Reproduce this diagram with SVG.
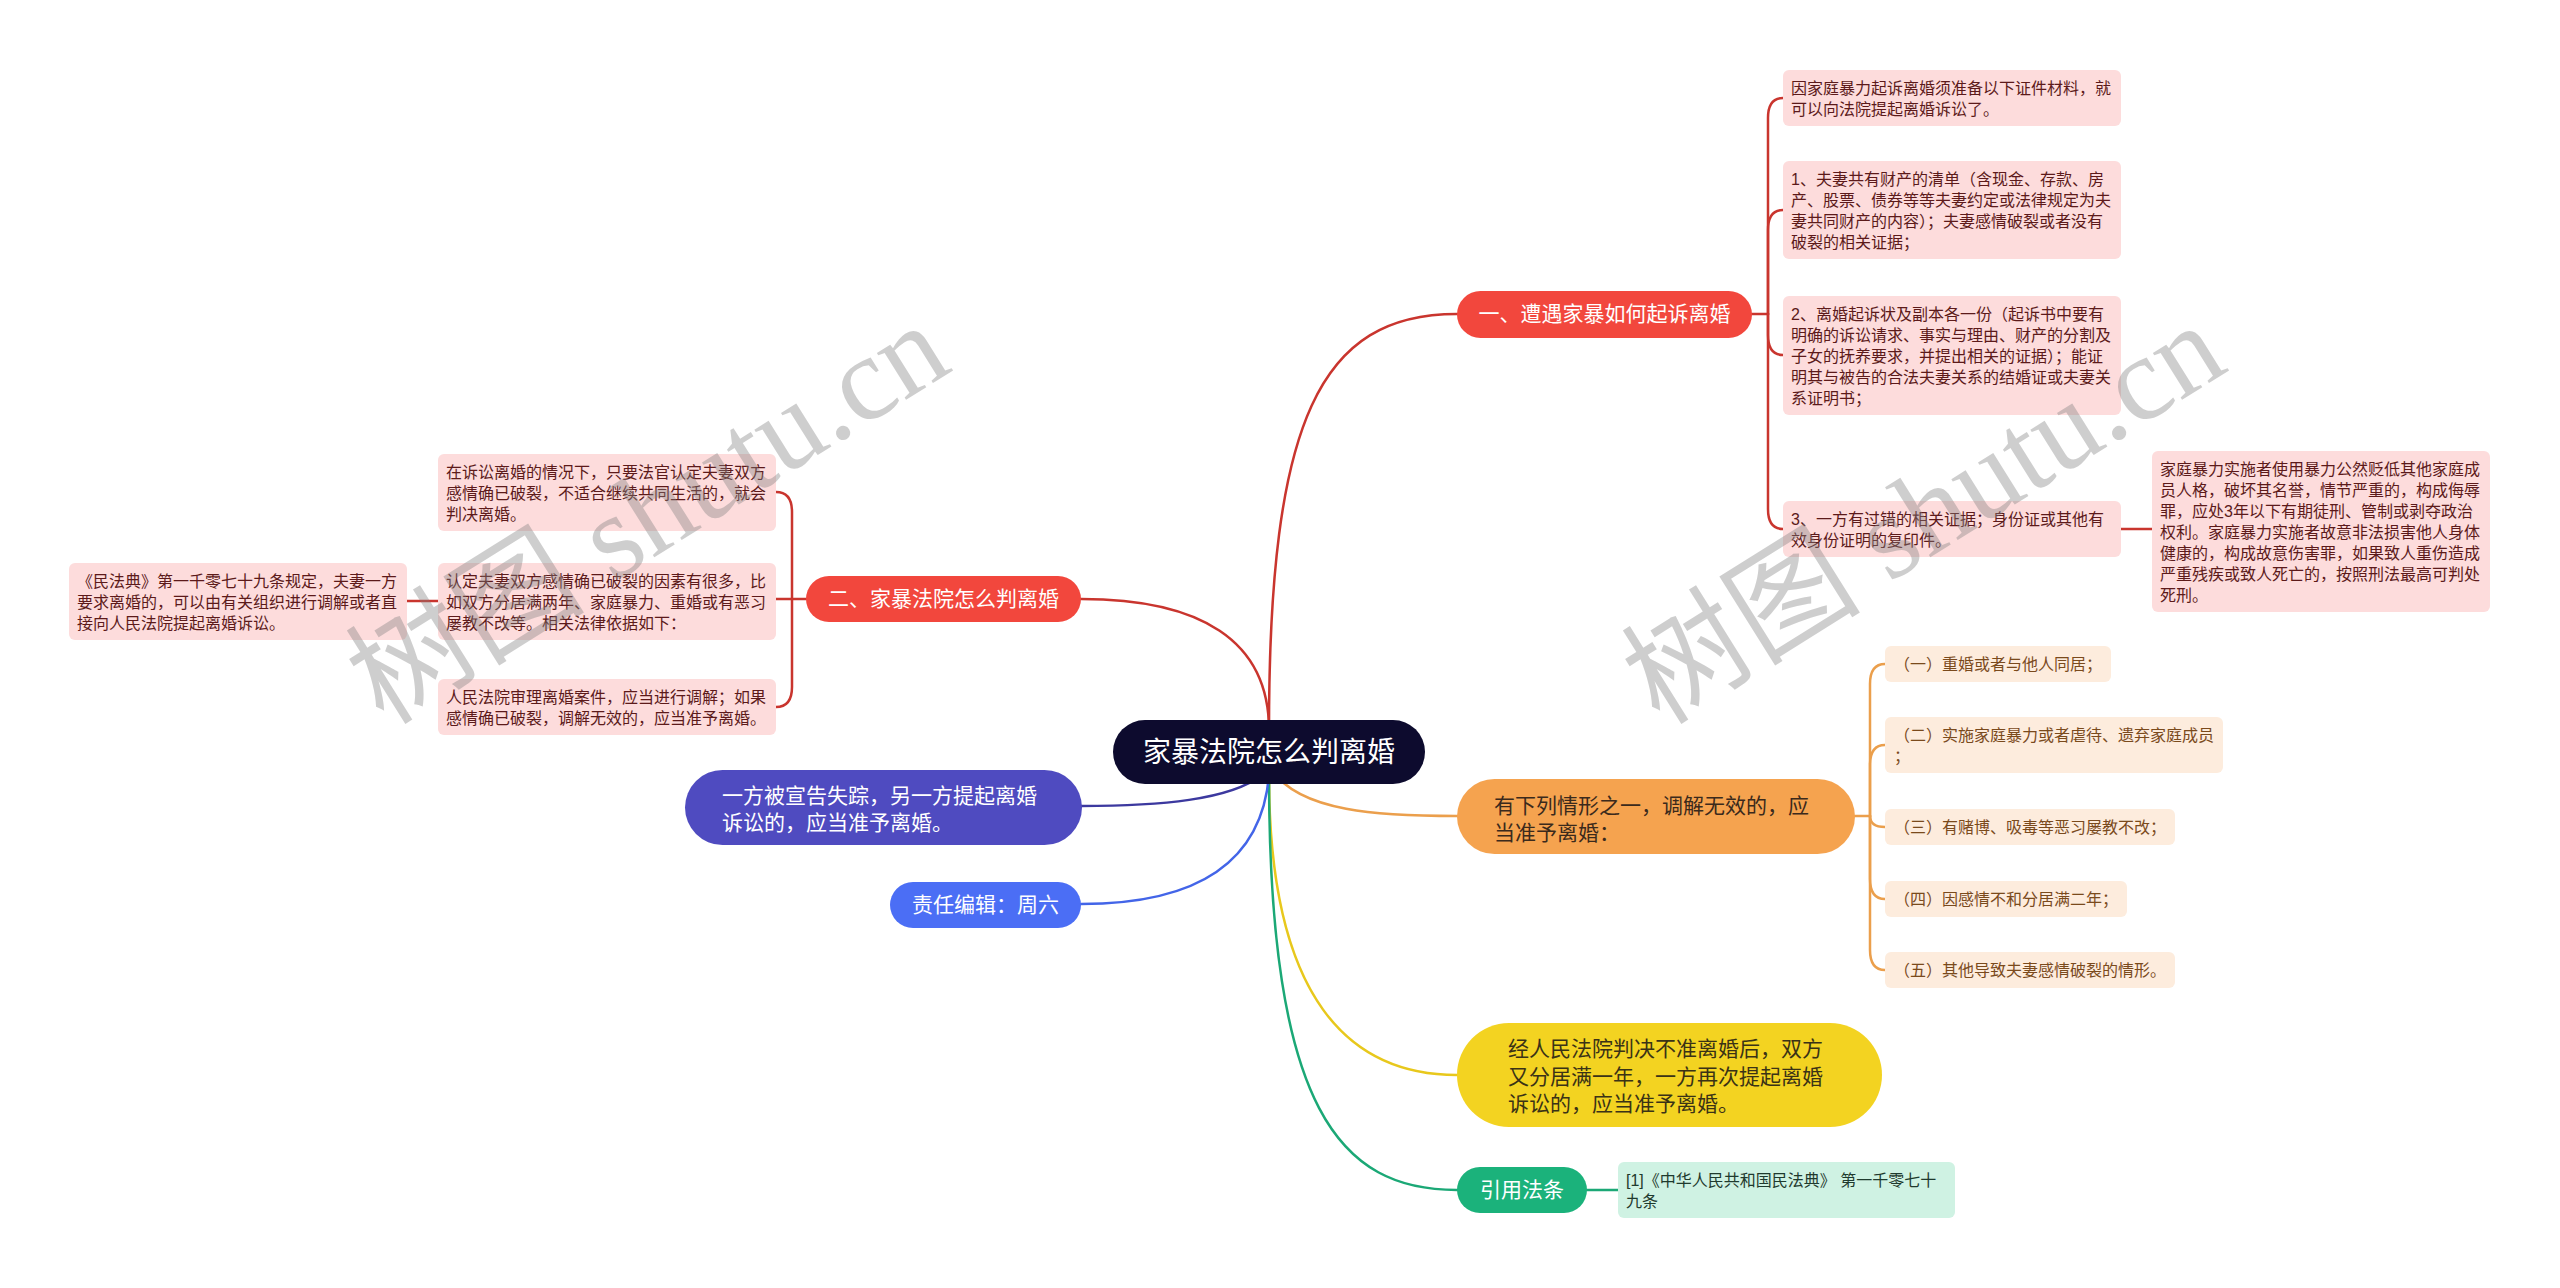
<svg xmlns="http://www.w3.org/2000/svg" width="2560" height="1288" viewBox="0 0 2560 1288">
<style>
text { font-family: "Liberation Sans", "Noto Sans CJK SC", sans-serif; }
.pk { fill: #fddcdc; }
.pt { font-size: 16px; fill: #5c1a1a; }
.pc { fill: #fdecdd; }
.ptc { font-size: 16px; fill: #7a4a1c; }
.gc { fill: #cff2e3; }
.gt { font-size: 16px; fill: #1f3a2e; }
.big { font-size: 21px; }
.wt { fill: #ffffff; }
.mid { text-anchor: middle; }
.ln { fill: none; stroke-width: 2.5; stroke-linecap: round; }
.red { stroke: #c9352e; }
.org { stroke: #eb9f4c; }
.yel { stroke: #e8c81c; }
.grn { stroke: #1ba876; }
.ind { stroke: #3c399f; }
.blu { stroke: #4365e8; }
.wm { font-family: "Liberation Serif", "Noto Sans CJK SC", serif; font-size: 120px; fill: #808080; opacity: 0.38; text-anchor: middle; }
</style>
<rect x="0" y="0" width="2560" height="1288" fill="#ffffff"/>

<g id="connectors">
  <path class="ln red" d="M1269,730 C1269,420 1320,314 1457,314"/>
  <path class="ln red" d="M1269,730 C1269,640 1200,599 1081,599"/>
  <path class="ln org" d="M1272,770 C1300,812 1380,816 1457,816"/>
  <path class="ln yel" d="M1269,775 C1269,1000 1350,1075 1457,1075"/>
  <path class="ln grn" d="M1269,775 C1269,1110 1340,1190 1457,1190"/>
  <path class="ln ind" d="M1262,775 C1230,800 1160,806 1081,806"/>
  <path class="ln blu" d="M1269,775 C1262,860 1200,904 1081,904"/>
  <!-- branch 1 bracket -->
  <path class="ln red" d="M1752,314 H1768"/>
  <path class="ln red" d="M1768,314 V118 Q1768,98 1783,98"/>
  <path class="ln red" d="M1768,314 V230 Q1768,210 1783,210"/>
  <path class="ln red" d="M1768,314 V335 Q1768,355 1783,355"/>
  <path class="ln red" d="M1768,314 V509 Q1768,529 1783,529"/>
  <path class="ln red" d="M2121,529 H2152"/>
  <!-- branch 2 bracket -->
  <path class="ln red" d="M806,599 H776"/>
  <path class="ln red" d="M792,599 V512 Q792,492 776,492"/>
  <path class="ln red" d="M792,599 V687 Q792,707 776,707"/>
  <path class="ln red" d="M438,601 H407"/>
  <!-- branch 3 bracket -->
  <path class="ln org" d="M1855,816 H1870"/>
  <path class="ln org" d="M1870,816 V684 Q1870,664 1885,664"/>
  <path class="ln org" d="M1870,816 V765 Q1870,745 1885,745"/>
  <path class="ln org" d="M1870,816 Q1870,827 1885,827"/>
  <path class="ln org" d="M1870,816 V879 Q1870,899 1885,899"/>
  <path class="ln org" d="M1870,816 V950 Q1870,970 1885,970"/>
  <!-- green child -->
  <path class="ln grn" d="M1587,1190 H1618"/>
</g>

<g id="root">
  <rect x="1113" y="720" width="312" height="64" rx="32" fill="#0d0b2e"/>
  <text class="wt mid" x="1269" y="762" font-size="28">家暴法院怎么判离婚</text>
</g>

<g id="b1">
  <rect x="1457" y="291" width="295" height="47" rx="23.5" fill="#f2473d"/>
  <text class="wt mid big" x="1604.5" y="321">一、遭遇家暴如何起诉离婚</text>
</g>
<g id="b1a">
  <rect class="pk" x="1783" y="70" width="338" height="56" rx="6"/>
  <text class="pt" x="1791"><tspan x="1791" y="94">因家庭暴力起诉离婚须准备以下证件材料，就</tspan><tspan x="1791" y="115">可以向法院提起离婚诉讼了。</tspan></text>
</g>
<g id="b1b">
  <rect class="pk" x="1783" y="161" width="338" height="98" rx="6"/>
  <text class="pt"><tspan x="1791" y="185">1、夫妻共有财产的清单（含现金、存款、房</tspan><tspan x="1791" y="206">产、股票、债券等等夫妻约定或法律规定为夫</tspan><tspan x="1791" y="227">妻共同财产的内容）；夫妻感情破裂或者没有</tspan><tspan x="1791" y="248">破裂的相关证据；</tspan></text>
</g>
<g id="b1c">
  <rect class="pk" x="1783" y="296" width="338" height="119" rx="6"/>
  <text class="pt"><tspan x="1791" y="320">2、离婚起诉状及副本各一份（起诉书中要有</tspan><tspan x="1791" y="341">明确的诉讼请求、事实与理由、财产的分割及</tspan><tspan x="1791" y="362">子女的抚养要求，并提出相关的证据）；能证</tspan><tspan x="1791" y="383">明其与被告的合法夫妻关系的结婚证或夫妻关</tspan><tspan x="1791" y="404">系证明书；</tspan></text>
</g>
<g id="b1d">
  <rect class="pk" x="1783" y="501" width="338" height="56" rx="6"/>
  <text class="pt"><tspan x="1791" y="525">3、一方有过错的相关证据；身份证或其他有</tspan><tspan x="1791" y="546">效身份证明的复印件。</tspan></text>
</g>
<g id="b1d1">
  <rect class="pk" x="2152" y="451" width="338" height="161" rx="6"/>
  <text class="pt"><tspan x="2160" y="475">家庭暴力实施者使用暴力公然贬低其他家庭成</tspan><tspan x="2160" y="496">员人格，破坏其名誉，情节严重的，构成侮辱</tspan><tspan x="2160" y="517">罪，应处3年以下有期徒刑、管制或剥夺政治</tspan><tspan x="2160" y="538">权利。家庭暴力实施者故意非法损害他人身体</tspan><tspan x="2160" y="559">健康的，构成故意伤害罪，如果致人重伤造成</tspan><tspan x="2160" y="580">严重残疾或致人死亡的，按照刑法最高可判处</tspan><tspan x="2160" y="601">死刑。</tspan></text>
</g>

<g id="b2">
  <rect x="806" y="576" width="275" height="46" rx="23" fill="#f2473d"/>
  <text class="wt mid big" x="943.5" y="606">二、家暴法院怎么判离婚</text>
</g>
<g id="b2a">
  <rect class="pk" x="438" y="454" width="338" height="77" rx="6"/>
  <text class="pt"><tspan x="446" y="478">在诉讼离婚的情况下，只要法官认定夫妻双方</tspan><tspan x="446" y="499">感情确已破裂，不适合继续共同生活的，就会</tspan><tspan x="446" y="520">判决离婚。</tspan></text>
</g>
<g id="b2b">
  <rect class="pk" x="438" y="563" width="338" height="77" rx="6"/>
  <text class="pt"><tspan x="446" y="587">认定夫妻双方感情确已破裂的因素有很多，比</tspan><tspan x="446" y="608">如双方分居满两年、家庭暴力、重婚或有恶习</tspan><tspan x="446" y="629">屡教不改等。相关法律依据如下：</tspan></text>
</g>
<g id="b2b1">
  <rect class="pk" x="69" y="563" width="338" height="77" rx="6"/>
  <text class="pt"><tspan x="77" y="587">《民法典》第一千零七十九条规定，夫妻一方</tspan><tspan x="77" y="608">要求离婚的，可以由有关组织进行调解或者直</tspan><tspan x="77" y="629">接向人民法院提起离婚诉讼。</tspan></text>
</g>
<g id="b2c">
  <rect class="pk" x="438" y="679" width="338" height="56" rx="6"/>
  <text class="pt"><tspan x="446" y="703">人民法院审理离婚案件，应当进行调解；如果</tspan><tspan x="446" y="724">感情确已破裂，调解无效的，应当准予离婚。</tspan></text>
</g>

<g id="b3">
  <rect x="1457" y="779" width="398" height="75" rx="37.5" fill="#f5a34f"/>
  <text class="big" fill="#3b2a1c"><tspan x="1494" y="813">有下列情形之一，调解无效的，应</tspan><tspan x="1494" y="840">当准予离婚：</tspan></text>
</g>
<g id="b3a">
  <rect class="pc" x="1885" y="646" width="226" height="36" rx="6"/>
  <text class="ptc" x="1894" y="670">（一）重婚或者与他人同居；</text>
</g>
<g id="b3b">
  <rect class="pc" x="1885" y="717" width="338" height="56" rx="6"/>
  <text class="ptc"><tspan x="1894" y="741">（二）实施家庭暴力或者虐待、遗弃家庭成员</tspan><tspan x="1894" y="762">；</tspan></text>
</g>
<g id="b3c">
  <rect class="pc" x="1885" y="809" width="290" height="36" rx="6"/>
  <text class="ptc" x="1894" y="833">（三）有赌博、吸毒等恶习屡教不改；</text>
</g>
<g id="b3d">
  <rect class="pc" x="1885" y="881" width="242" height="36" rx="6"/>
  <text class="ptc" x="1894" y="905">（四）因感情不和分居满二年；</text>
</g>
<g id="b3e">
  <rect class="pc" x="1885" y="952" width="290" height="36" rx="6"/>
  <text class="ptc" x="1894" y="976">（五）其他导致夫妻感情破裂的情形。</text>
</g>

<g id="b4">
  <rect x="1457" y="1023" width="425" height="104" rx="52" fill="#f3d321"/>
  <text class="big" fill="#3a3216"><tspan x="1508" y="1056">经人民法院判决不准离婚后，双方</tspan><tspan x="1508" y="1084">又分居满一年，一方再次提起离婚</tspan><tspan x="1508" y="1111">诉讼的，应当准予离婚。</tspan></text>
</g>

<g id="b5">
  <rect x="1457" y="1167" width="130" height="46" rx="23" fill="#1bb27b"/>
  <text class="wt mid big" x="1522" y="1197">引用法条</text>
</g>
<g id="b5a">
  <rect class="gc" x="1618" y="1162" width="337" height="56" rx="6"/>
  <text class="gt"><tspan x="1626" y="1186">[1]《中华人民共和国民法典》 第一千零七十</tspan><tspan x="1626" y="1207">九条</tspan></text>
</g>

<g id="b6">
  <rect x="685" y="770" width="397" height="75" rx="37.5" fill="#4f4bc0"/>
  <text class="wt big"><tspan x="722" y="803">一方被宣告失踪，另一方提起离婚</tspan><tspan x="722" y="830">诉讼的，应当准予离婚。</tspan></text>
</g>

<g id="b7">
  <rect x="890" y="882" width="191" height="46" rx="23" fill="#4b6ef5"/>
  <text class="wt mid big" x="985.5" y="912">责任编辑：周六</text>
</g>

<g id="watermark">
  <text class="wm" transform="translate(648,514) rotate(-32)" x="0" y="40">树图 shutu.cn</text>
  <text class="wm" transform="translate(1924,514) rotate(-32)" x="0" y="40">树图 shutu.cn</text>
</g>
</svg>
